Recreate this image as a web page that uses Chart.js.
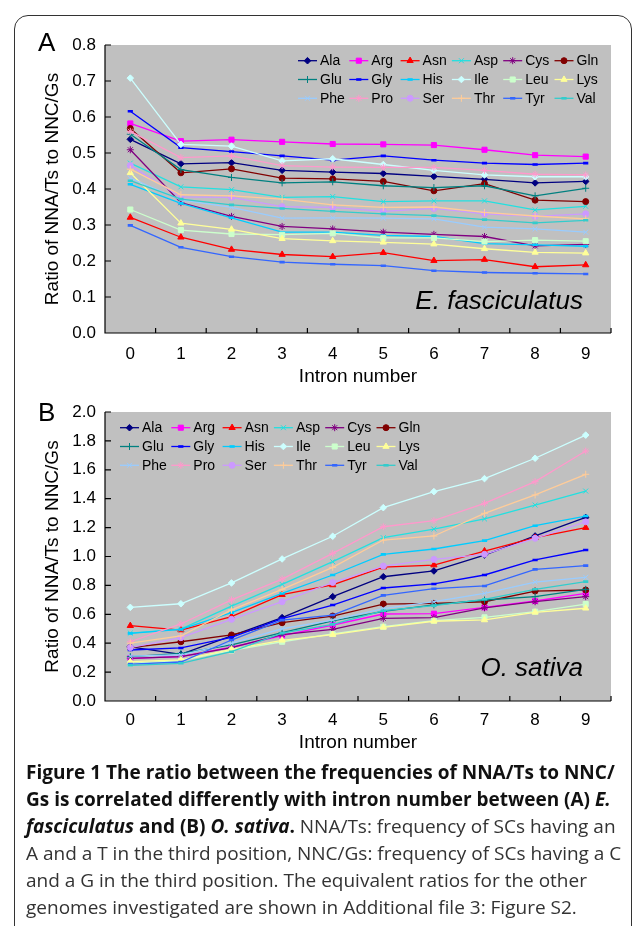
<!DOCTYPE html>
<html>
<head>
<meta charset="utf-8">
<script src="https://cdn.jsdelivr.net/npm/chart.js@4.4.1/dist/chart.umd.min.js"></script>
<style>
  body { margin:0; background:#fff; width:633px; height:926px; overflow:hidden; position:relative; font-family:"Liberation Sans", Arial, sans-serif; }
  .frame { position:absolute; left:14px; top:15px; width:618px; height:940px; border:1.5px solid #333; border-radius:14px; box-sizing:border-box; }
  .panel { position:absolute; left:0; width:633px; }
  #wrapA { top:0; height:400px; }
  #wrapB { top:390px; height:372px; }
  .tag { position:absolute; left:38px; font-size:26px; line-height:26px; color:#000; }
  .caption { position:absolute; left:26px; top:759px; font-family:"Open Sans", sans-serif; font-size:19px; line-height:27px; color:#333; white-space:nowrap; }
  .caption b { color:#111; }
</style>
</head>
<body>
<div class="frame"></div>
<div class="panel" id="wrapA"><canvas id="chartA"></canvas></div>
<div class="panel" id="wrapB"><canvas id="chartB"></canvas></div>
<div class="tag" style="top:29px">A</div>
<div class="tag" style="top:399px">B</div>
<div class="caption">
<b>Figure 1 The ratio between the frequencies of NNA/Ts to NNC/</b><br>
<b>Gs is correlated differently with intron number between (A) <i>E.</i></b><br>
<b><i>fasciculatus</i> and (B) <i>O. sativa</i>.</b> NNA/Ts: frequency of SCs having an<br>
A and a T in the third position, NNC/Gs: frequency of SCs having a C<br>
and a G in the third position. The equivalent ratios for the other<br>
genomes investigated are shown in Additional file 3: Figure S2.
</div>
<script>
// categories
const introns = ['0', '1', '2', '3', '4', '5', '6', '7', '8', '9'];
const aminoAcids = ['Ala', 'Arg', 'Asn', 'Asp', 'Cys', 'Gln', 'Glu', 'Gly', 'His',
                    'Ile', 'Leu', 'Lys', 'Phe', 'Pro', 'Ser', 'Thr', 'Tyr', 'Val'];

// A: E. fasciculatus
const eAla = [0.538, 0.470, 0.473, 0.452, 0.447, 0.443, 0.435, 0.427, 0.417, 0.421];
const eArg = [0.582, 0.533, 0.537, 0.531, 0.525, 0.524, 0.522, 0.509, 0.494, 0.490];
const eAsn = [0.321, 0.266, 0.232, 0.218, 0.212, 0.223, 0.201, 0.204, 0.184, 0.189];
const eAsp = [0.472, 0.406, 0.398, 0.377, 0.379, 0.365, 0.367, 0.367, 0.342, 0.352];
const eCys = [0.509, 0.362, 0.324, 0.296, 0.289, 0.280, 0.274, 0.268, 0.242, 0.246];
const eGln = [0.568, 0.445, 0.456, 0.430, 0.428, 0.421, 0.395, 0.415, 0.369, 0.365];
const eGlu = [0.552, 0.454, 0.432, 0.417, 0.420, 0.409, 0.404, 0.409, 0.381, 0.402];
const eGly = [0.616, 0.515, 0.504, 0.492, 0.480, 0.492, 0.480, 0.472, 0.468, 0.472];
const eHis = [0.413, 0.360, 0.320, 0.280, 0.280, 0.271, 0.268, 0.248, 0.245, 0.241];
const eIle = [0.708, 0.524, 0.519, 0.478, 0.484, 0.468, 0.452, 0.439, 0.434, 0.434];
const eLeu = [0.343, 0.286, 0.275, 0.273, 0.277, 0.264, 0.264, 0.254, 0.258, 0.255];
const eLys = [0.445, 0.305, 0.288, 0.262, 0.256, 0.252, 0.247, 0.234, 0.224, 0.222];
const ePhe = [0.430, 0.370, 0.349, 0.319, 0.320, 0.319, 0.317, 0.294, 0.289, 0.280];
const ePro = [0.560, 0.487, 0.492, 0.465, 0.461, 0.460, 0.460, 0.452, 0.441, 0.439];
const eSer = [0.465, 0.378, 0.377, 0.351, 0.349, 0.338, 0.346, 0.331, 0.324, 0.331];
const eThr = [0.455, 0.384, 0.381, 0.372, 0.356, 0.349, 0.350, 0.335, 0.325, 0.317];
const eTyr = [0.299, 0.238, 0.212, 0.197, 0.191, 0.187, 0.173, 0.168, 0.166, 0.164];
const eVal = [0.423, 0.372, 0.356, 0.346, 0.338, 0.331, 0.326, 0.315, 0.306, 0.313];

// B: O. sativa
const oAla = [0.375, 0.323, 0.450, 0.577, 0.722, 0.860, 0.900, 1.010, 1.142, 1.270];
const oArg = [0.295, 0.307, 0.372, 0.452, 0.526, 0.602, 0.604, 0.648, 0.692, 0.745];
const oAsn = [0.521, 0.491, 0.584, 0.736, 0.803, 0.927, 0.941, 1.038, 1.130, 1.200];
const oAsp = [0.470, 0.498, 0.657, 0.807, 0.964, 1.130, 1.190, 1.260, 1.356, 1.453];
const oCys = [0.295, 0.307, 0.370, 0.460, 0.496, 0.572, 0.577, 0.645, 0.687, 0.722];
const oGln = [0.369, 0.410, 0.457, 0.542, 0.588, 0.671, 0.676, 0.687, 0.761, 0.768];
const oGlu = [0.307, 0.330, 0.388, 0.473, 0.554, 0.620, 0.665, 0.699, 0.722, 0.773];
const oGly = [0.353, 0.367, 0.441, 0.570, 0.664, 0.782, 0.810, 0.872, 0.976, 1.045];
const oHis = [0.468, 0.495, 0.611, 0.745, 0.872, 1.015, 1.052, 1.110, 1.213, 1.280];
const oIle = [0.648, 0.673, 0.817, 0.983, 1.140, 1.338, 1.449, 1.539, 1.680, 1.840];
const oLeu = [0.261, 0.280, 0.350, 0.410, 0.464, 0.514, 0.556, 0.579, 0.618, 0.671];
const oLys = [0.272, 0.284, 0.358, 0.420, 0.460, 0.510, 0.552, 0.561, 0.614, 0.642];
const oPhe = [0.310, 0.320, 0.400, 0.500, 0.560, 0.640, 0.687, 0.745, 0.823, 0.856];
const oPro = [0.410, 0.533, 0.700, 0.844, 1.022, 1.206, 1.248, 1.368, 1.518, 1.730];
const oSer = [0.370, 0.438, 0.565, 0.687, 0.820, 0.934, 0.980, 1.015, 1.126, 1.240];
const oThr = [0.400, 0.450, 0.630, 0.773, 0.925, 1.114, 1.142, 1.299, 1.426, 1.569];
const oTyr = [0.255, 0.270, 0.422, 0.560, 0.595, 0.731, 0.777, 0.796, 0.911, 0.937];
const oVal = [0.247, 0.261, 0.341, 0.470, 0.530, 0.625, 0.660, 0.704, 0.773, 0.826];

// tick labels
const ticksA = [0, 0.1, 0.2, 0.3, 0.4, 0.5, 0.6, 0.7, 0.8];
const ticksB = [0, 0.2, 0.4, 0.6, 0.8, 1.0, 1.2, 1.4, 1.6, 1.8, 2.0];

const seriesA = [eAla, eArg, eAsn, eAsp, eCys, eGln, eGlu, eGly, eHis, eIle, eLeu, eLys, ePhe, ePro, eSer, eThr, eTyr, eVal];
const seriesB = [oAla, oArg, oAsn, oAsp, oCys, oGln, oGlu, oGly, oHis, oIle, oLeu, oLys, oPhe, oPro, oSer, oThr, oTyr, oVal];

// Excel-like series styles
const colors = ['#000080', '#ff00ff', '#ff0000', '#22e0e0', '#800080', '#800000', '#008080', '#0000ff', '#00ccff',
                '#ccffff', '#ccffcc', '#ffff99', '#99ccff', '#ff99cc', '#cc99ff', '#ffcc99', '#3366ff', '#33cccc'];
const markers = ['rectRot', 'rect', 'triangle', 'crossRot', 'star', 'circle', 'cross', 'line', 'line',
                 'rectRot', 'rect', 'triangle', 'crossRot', 'star', 'circle', 'cross', 'line', 'line'];
const markerSize = { rectRot: 3.3, rect: 3.6, triangle: 3.6, crossRot: 3.5, star: 3.5, circle: 3, cross: 3.5, line: 2.6 };

const FONT = '"Liberation Sans", Arial, sans-serif';

function makeDatasets(series) {
    return series.map((vals, i) => ({
        label: aminoAcids[i],
        data: vals,
        borderColor: colors[i],
        backgroundColor: colors[i],
        borderWidth: 1.3,
        pointStyle: markers[i],
        pointRadius: markerSize[markers[i]],
        pointBorderWidth: markers[i] === 'line' ? 2.6 : 1,
        pointBackgroundColor: colors[i],
        pointBorderColor: colors[i],
        tension: 0,
        order: series.length - i
    }));
}

// plot background, axes, inside ticks, legend, species name
const decor = {
    id: 'decor',
    beforeDatasetsDraw(chart) {
        const { ctx, chartArea: a, scales: { x, y } } = chart;
        ctx.save();
        ctx.fillStyle = '#c0c0c0';
        ctx.fillRect(a.left, a.top, a.right - a.left, a.bottom - a.top);
        ctx.strokeStyle = '#000';
        ctx.lineWidth = 1.2;
        ctx.beginPath();
        ctx.moveTo(a.left, a.top);
        ctx.lineTo(a.left, a.bottom);
        ctx.lineTo(a.right, a.bottom);
        y.ticks.forEach(t => {
            const py = y.getPixelForValue(t.value);
            ctx.moveTo(a.left, py);
            ctx.lineTo(a.left + 6, py);
        });
        const half = (x.getPixelForValue(1) - x.getPixelForValue(0)) / 2;
        for (let i = 0; i < introns.length; i++) {
            const px = x.getPixelForValue(i) + half;
            ctx.moveTo(px, a.bottom);
            ctx.lineTo(px, a.bottom - 5);
        }
        ctx.stroke();
        ctx.restore();
    },
    afterDatasetsDraw(chart, args, opts) {
        const { ctx, chartArea: a } = chart;
        ctx.save();
        chart.data.datasets.forEach((ds, i) => {
            const col = i % 6, row = Math.floor(i / 6);
            const x0 = opts.legendLeft + col * 51.3;
            const yc = a.top + 15.7 + row * 18.8;
            ctx.strokeStyle = ds.borderColor;
            ctx.fillStyle = ds.borderColor;
            ctx.lineWidth = 1.3;
            ctx.beginPath();
            ctx.moveTo(x0, yc);
            ctx.lineTo(x0 + 19, yc);
            ctx.stroke();
            ctx.lineWidth = ds.pointBorderWidth;
            Chart.helpers.drawPoint(ctx, { pointStyle: ds.pointStyle, radius: ds.pointRadius, borderWidth: ds.pointBorderWidth, rotation: 0 }, x0 + 9.5, yc);
            ctx.fillStyle = '#000';
            ctx.font = '14px ' + FONT;
            ctx.textBaseline = 'middle';
            ctx.textAlign = 'left';
            ctx.fillText(ds.label, x0 + 22, yc + 0.5);
        });
        ctx.font = 'italic 26px ' + FONT;
        ctx.fillStyle = '#000';
        ctx.textAlign = 'right';
        ctx.textBaseline = 'middle';
        ctx.fillText(opts.species, 583, a.bottom - opts.speciesOffset);
        ctx.restore();
    }
};

function makeChart(id, series, maxY, opts) {
    return new Chart(document.getElementById(id), {
        type: 'line',
        data: { labels: introns, datasets: makeDatasets(series) },
        options: {
            responsive: true,
            maintainAspectRatio: false,
            animation: false,
            layout: { padding: { top: opts.top, right: 22, left: 0, bottom: 0 } },
            plugins: {
                legend: { display: false },
                tooltip: { enabled: false },
                decor: opts
            },
            scales: {
                x: {
                    type: 'category',
                    offset: true,
                    grid: { display: false, drawTicks: false },
                    border: { display: false },
                    ticks: { color: '#000', font: { family: FONT, size: 17 }, padding: opts.tickPad, maxRotation: 0 },
                    title: { display: true, text: 'Intron number', color: '#000', font: { family: FONT, size: 19 }, padding: { top: 0, bottom: opts.titlePad } },
                    afterFit(s) { s.height = opts.xHeight; }
                },
                y: {
                    min: 0,
                    max: maxY,
                    grid: { display: false, drawTicks: false },
                    border: { display: false },
                    afterBuildTicks(s) { s.ticks = opts.ticks.map(v => ({ value: v })); },
                    ticks: { color: '#000', font: { family: FONT, size: 17 }, padding: 9, callback: v => Number(v).toFixed(1) },
                    title: { display: true, text: 'Ratio of NNA/Ts to NNC/Gs', color: '#000', font: { family: FONT, size: 19 }, padding: { top: 41, bottom: 0 } },
                    afterFit(s) { s.width = 105; }
                }
            }
        },
        plugins: [decor]
    });
}

makeChart('chartA', seriesA, 0.8, { top: 45, xHeight: 67, tickPad: 11, titlePad: 11.6, ticks: ticksA, legendLeft: 298, species: 'E. fasciculatus', speciesOffset: 31 });
makeChart('chartB', seriesB, 2.0, { top: 22, xHeight: 61, tickPad: 9, titlePad: 7.6, ticks: ticksB, legendLeft: 120, species: 'O. sativa', speciesOffset: 32 });
</script>
</body>
</html>
